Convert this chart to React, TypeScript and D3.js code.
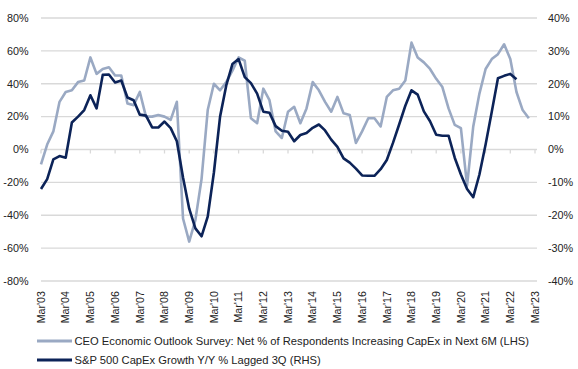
import * as d3 from "d3";

// chart size
const width = 578;
const height = 369;
const MARGIN = { top: 18, right: 43, bottom: 88, left: 41 };

// quarterly data, Mar'03 onwards
const ceoCapexIntentions = [
  -9, 3, 11, 29, 35, 36, 41, 42, 56, 46,
  49, 50, 45, 45, 28, 27, 35, 20, 20, 21,
  20, 18, 29, -42, -56, -43, -18, 24, 40, 36,
  41, 48, 56, 54, 19, 16, 37, 30, 11, 7,
  23, 26, 16, 25, 41, 36, 29, 23, 32, 22,
  21, 4, 11, 19, 19, 14, 32, 36, 37, 42,
  65, 56, 53, 49, 43, 38, 25, 15, 13, -22,
  14, 34, 49, 55, 58, 64, 55, 35, 24, 19,
];

const spxCapexGrowth = [
  -12, -9, -3, -2, -2.5, 8.2, 10, 12, 16.5, 12.5,
  22.7, 22.8, 20.4, 21, 15.8, 15, 10.6, 10.3, 6.7, 6.7,
  8.5, 6.5, 2.5, -8.5, -18, -24, -26.4, -20.4, -7, 10,
  19.5, 26, 27.5, 22, 20.2, 17, 11.5, 11.2, 7.1, 5.7,
  5.4, 2.5, 4.4, 5, 6.6, 7.6, 5.8, 3, 0.8, -2.7,
  -4, -5.8, -7.9, -8, -8, -6, -3.2, 2, 7.6, 13.3,
  18, 16.7, 11.6, 8.6, 4.5, 4.2, 4.2, -2.5, -7.6, -12,
  -14.5, -7.6, 1.5, 11.5, 21.7, 22.4, 23, 21.4,
];

const yearLabels = [
  "Mar'03", "Mar'04", "Mar'05", "Mar'06", "Mar'07", "Mar'08", "Mar'09",
  "Mar'10", "Mar'11", "Mar'12", "Mar'13", "Mar'14", "Mar'15", "Mar'16",
  "Mar'17", "Mar'18", "Mar'19", "Mar'20", "Mar'21", "Mar'22", "Mar'23",
];
const leftTicks = [80, 60, 40, 20, 0, -20, -40, -60, -80];
const rightTicks = [40, 30, 20, 10, 0, -10, -20, -30, -40];

const legendLabels = [
  "CEO Economic Outlook Survey: Net % of Respondents Increasing CapEx in Next 6M (LHS)",
  "S&P 500 CapEx Growth Y/Y % Lagged 3Q (RHS)",
];

const LIGHT = "#9aa9c3";
const DARK = "#0c2358";
const GRID = "#d9d9d9";
const FONT = "'Liberation Sans', Arial, sans-serif";

export default function App() {
  const plotBottom = height - MARGIN.bottom;
  const plotRight = width - MARGIN.right;

  // x in quarters since Mar'03
  const xScale = d3
    .scaleLinear()
    .domain([0, (yearLabels.length - 1) * 4])
    .range([MARGIN.left, plotRight]);

  const yLeft = d3.scaleLinear().domain([-80, 80]).range([plotBottom, MARGIN.top]);
  const yRight = d3.scaleLinear().domain([-40, 40]).range([plotBottom, MARGIN.top]);

  const lightLine = d3
    .line<number>()
    .x((d, i) => xScale(i))
    .y((d) => yLeft(d));

  const darkLine = d3
    .line<number>()
    .x((d, i) => xScale(i))
    .y((d) => yRight(d));

  const zeroY = yLeft(0);

  return (
    <svg
      width={width}
      height={height}
      style={{ position: "absolute", left: 0, top: 0, background: "#fff" }}
      fontFamily={FONT}
    >
      {/* gridlines */}
      {leftTicks.map((t) => (
        <line
          key={"g" + t}
          x1={MARGIN.left}
          x2={plotRight + 2}
          y1={yLeft(t)}
          y2={yLeft(t)}
          stroke={GRID}
          strokeWidth={1.3}
        />
      ))}

      {/* year ticks on the zero line */}
      {yearLabels.map((lab, i) => (
        <line
          key={"t" + lab}
          x1={xScale(i * 4)}
          x2={xScale(i * 4)}
          y1={zeroY}
          y2={zeroY + 4}
          stroke={GRID}
          strokeWidth={1.3}
        />
      ))}

      {/* left axis labels */}
      {leftTicks.map((t) => (
        <text
          key={"l" + t}
          x={28.5}
          y={yLeft(t)}
          dy="0.35em"
          textAnchor="end"
          fontSize={10.8}
          fill="#222"
        >
          {t + "%"}
        </text>
      ))}

      {/* right axis labels */}
      {rightTicks.map((t) => (
        <text
          key={"r" + t}
          x={548}
          y={yRight(t)}
          dy="0.35em"
          textAnchor="start"
          fontSize={10.8}
          fill="#222"
        >
          {t + "%"}
        </text>
      ))}

      {/* x axis labels, rotated */}
      {yearLabels.map((lab, i) => (
        <text
          key={"x" + lab}
          transform={`translate(${xScale(i * 4)},${plotBottom + 10}) rotate(-90)`}
          dy="0.35em"
          textAnchor="end"
          fontSize={10.7}
          fill="#222"
        >
          {lab}
        </text>
      ))}

      {/* series */}
      <path d={lightLine(ceoCapexIntentions) || ""} fill="none" stroke={LIGHT} strokeWidth={2.6} strokeLinejoin="round" />
      <path d={darkLine(spxCapexGrowth) || ""} fill="none" stroke={DARK} strokeWidth={2.6} strokeLinejoin="round" />

      {/* legend */}
      {legendLabels.map((lab, i) => (
        <g key={"lg" + i} transform={`translate(0,${341 + i * 19})`}>
          <line x1={37} x2={72} y1={0} y2={0} stroke={i === 0 ? LIGHT : DARK} strokeWidth={3} />
          <text x={74.5} y={0} dy="0.35em" fontSize={11.2} fill="#222">
            {lab}
          </text>
        </g>
      ))}
    </svg>
  );
}
